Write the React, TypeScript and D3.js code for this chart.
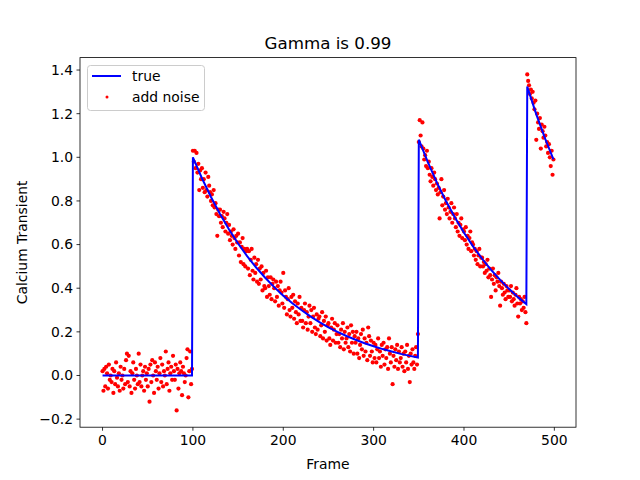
import React from 'react';
import * as d3 from 'd3';

// true transient, sampled (frame, value)
const trueFrames = [0, 99, 100, 110, 120, 130, 140, 150, 160, 170, 180, 190, 200, 210, 220, 230, 240, 250, 260, 270, 280, 290, 300, 310, 320, 330, 340, 349, 350, 360, 370, 380, 390, 400, 410, 420, 430, 440, 450, 460, 469, 470, 480, 490, 499];
const trueValues = [0, 0, 1.0, 0.904, 0.818, 0.74, 0.669, 0.605, 0.547, 0.495, 0.448, 0.405, 0.366, 0.331, 0.3, 0.271, 0.245, 0.221, 0.2, 0.181, 0.164, 0.148, 0.134, 0.121, 0.11, 0.099, 0.09, 0.082, 1.081, 0.978, 0.884, 0.8, 0.724, 0.654, 0.592, 0.535, 0.484, 0.438, 0.396, 0.358, 0.327, 1.324, 1.197, 1.083, 0.99];

// noisy observation, one per frame 0..499
const noisy = [
  0.02, -0.07, 0.03, -0.05, 0.04, 0.01, -0.06, 0.05, -0.02, 0.0,
  -0.03, 0.03, -0.08, 0.02, -0.04, 0.06, -0.01, -0.05, 0.01, -0.07,
  0.04, -0.02, 0.0, -0.06, 0.03, -0.04, 0.07, 0.1, -0.03, 0.09,
  -0.05, 0.02, -0.08, 0.01, 0.06, -0.02, -0.06, 0.03, 0.0, -0.04,
  0.1, -0.03, 0.05, -0.05, 0.0, 0.02, -0.07, 0.04, -0.02, 0.01,
  -0.05, 0.03, -0.12, 0.05, -0.03, 0.07, 0.0, -0.08, 0.06, 0.02,
  -0.02, 0.04, -0.06, 0.01, 0.08, -0.03, 0.05, -0.05, 0.02, 0.0,
  0.11, -0.04, 0.03, 0.06, -0.07, 0.01, 0.04, -0.02, 0.09, 0.02,
  -0.02, 0.05, -0.16, 0.03, -0.06, 0.01, 0.06, 0.02, -0.09, 0.04,
  0.01, -0.03, 0.0, 0.08, 0.12, -0.1, 0.02, 0.11, -0.04, 0.03,
  1.03, 0.98, 1.03, 0.95, 1.02, 0.93, 0.97, 0.85, 0.94, 0.9,
  0.95, 0.86, 0.9, 0.84, 0.93, 0.85, 0.82, 0.91, 0.87, 0.84,
  0.8, 0.83, 0.78, 0.85, 0.77, 0.79, 0.74, 0.64, 0.76, 0.73,
  0.76, 0.7, 0.73, 0.68, 0.75, 0.72, 0.66, 0.7, 0.74, 0.65,
  0.69, 0.62, 0.66, 0.64, 0.6, 0.67, 0.63, 0.58, 0.64, 0.61,
  0.65, 0.55, 0.61, 0.52, 0.59, 0.63, 0.51, 0.58, 0.5, 0.57,
  0.58, 0.49, 0.57, 0.46, 0.53, 0.58, 0.48, 0.44, 0.54, 0.47,
  0.51, 0.43, 0.53, 0.42, 0.49, 0.44, 0.5, 0.39, 0.47, 0.41,
  0.4, 0.48, 0.36, 0.45, 0.41, 0.37, 0.45, 0.35, 0.42, 0.44,
  0.4, 0.34, 0.43, 0.36, 0.41, 0.32, 0.39, 0.43, 0.38, 0.33,
  0.47, 0.31, 0.39, 0.36, 0.28, 0.35, 0.4, 0.3, 0.27, 0.36,
  0.31, 0.37, 0.26, 0.34, 0.29, 0.24, 0.33, 0.28, 0.36, 0.25,
  0.31, 0.25, 0.22, 0.3, 0.33, 0.24, 0.29, 0.21, 0.27, 0.32,
  0.24, 0.3, 0.2, 0.27, 0.31, 0.22, 0.19, 0.28, 0.21, 0.26,
  0.27, 0.18, 0.23, 0.29, 0.17, 0.25, 0.2, 0.27, 0.16, 0.23,
  0.24, 0.17, 0.14, 0.22, 0.26, 0.16, 0.21, 0.24, 0.15, 0.19,
  0.23, 0.15, 0.19, 0.13, 0.21, 0.17, 0.24, 0.12, 0.2, 0.15,
  0.17, 0.22, 0.13, 0.19, 0.11, 0.23, 0.15, 0.2, 0.1, 0.18,
  0.15, 0.2, 0.1, 0.17, 0.08, 0.14, 0.19, 0.12, 0.21, 0.09,
  0.17, 0.11, 0.15, 0.07, 0.22, 0.18, 0.09, 0.16, 0.11, 0.06,
  0.15, 0.08, 0.14, 0.06, 0.12, 0.17, 0.08, 0.11, 0.04, 0.14,
  0.09, 0.15, 0.05, 0.12, 0.08, 0.13, 0.03, 0.17, 0.1, 0.06,
  0.13, -0.04, 0.09, 0.04, 0.12, 0.07, 0.14, 0.03, 0.11, 0.06,
  0.08, 0.13, 0.04, 0.1, 0.02, 0.11, 0.06, 0.14, 0.03, 0.09,
  -0.03, 0.1, 0.05, 0.12, 0.06, 0.03, 0.09, 0.13, 0.05, 0.19,
  1.07, 1.17, 1.1, 1.05, 1.16, 1.04, 0.99, 1.01, 0.96, 1.03,
  0.95, 0.98, 0.92, 0.89, 0.95, 0.91, 0.87, 0.93, 0.9, 0.85,
  0.88, 0.83, 0.86, 0.72, 0.84, 0.9, 0.78, 0.82, 0.85, 0.76,
  0.79, 0.74, 0.81, 0.77, 0.72, 0.75, 0.79, 0.7, 0.74, 0.77,
  0.72, 0.68, 0.74, 0.66, 0.7, 0.64, 0.69, 0.72, 0.63, 0.67,
  0.66, 0.62, 0.68, 0.6, 0.64, 0.58, 0.63, 0.66, 0.57, 0.61,
  0.6, 0.55, 0.58, 0.53, 0.57, 0.51, 0.55, 0.58, 0.5, 0.54,
  0.54, 0.5, 0.52, 0.47, 0.51, 0.48, 0.53, 0.45, 0.49, 0.46,
  0.36, 0.44, 0.49, 0.42, 0.46, 0.39, 0.45, 0.43, 0.47, 0.41,
  0.32, 0.43, 0.4, 0.37, 0.42, 0.38, 0.35, 0.41, 0.39, 0.36,
  0.39, 0.36, 0.41, 0.34, 0.38, 0.35, 0.32, 0.37, 0.4, 0.33,
  0.27, 0.36, 0.33, 0.35, 0.3, 0.34, 0.31, 0.36, 0.29, 0.24,
  1.38, 1.35, 1.33, 1.29, 1.31, 1.27, 1.3, 1.25, 1.22, 1.26,
  1.08, 1.2, 1.16, 1.13, 1.18, 1.04, 1.15, 1.12, 1.09, 1.14,
  1.1, 1.05, 1.07, 1.02, 1.06, 1.0, 0.96, 1.03, 0.92, 0.99,
];

const xTicks = [0, 100, 200, 300, 400, 500];
const yTicks = [-0.2, 0.0, 0.2, 0.4, 0.6, 0.8, 1.0, 1.2, 1.4];

const W = 640;
const H = 480;
const L = 80, R = 576, T = 57.6, B = 427.2;
const FONT = 'DejaVu Sans, sans-serif';

export default function App() {
  const n = noisy.length;
  const xm = (n - 1) * 0.05;
  const x = d3.scaleLinear().domain([-xm, n - 1 + xm]).range([L, R]);
  const lo = d3.min([...noisy, ...trueValues]) as number;
  const hi = d3.max([...noisy, ...trueValues]) as number;
  const ym = (hi - lo) * 0.05;
  const y = d3.scaleLinear().domain([lo - ym, hi + ym]).range([B, T]);

  const line = d3
    .line<number>()
    .x((_, i) => x(trueFrames[i]))
    .y((d) => y(d));

  const fmt = (v: number) => v.toFixed(1).replace('-', '\u2212');

  return (
    <svg width={W} height={H} style={{ position: 'absolute', left: 0, top: 0, background: '#fff' }} fontFamily={FONT}>
      <rect x={0} y={0} width={W} height={H} fill="#fff" />
      <defs>
        <clipPath id="plot">
          <rect x={L} y={T} width={R - L} height={B - T} />
        </clipPath>
      </defs>
      <g clipPath="url(#plot)">
        {noisy.map((v, i) => (
          <circle key={i} cx={x(i)} cy={y(v)} r={2.1} fill="#ff0000" />
        ))}
        <path d={line(trueValues) as string} fill="none" stroke="#0000ff" strokeWidth={2} />
      </g>
      <rect x={L} y={T} width={R - L} height={B - T} fill="none" stroke="#000" strokeWidth={0.8} />
      {xTicks.map((t) => (
        <g key={t} transform={`translate(${x(t)},${B})`}>
          <line y2={3.5} stroke="#000" strokeWidth={0.8} />
          <text y={17.5} textAnchor="middle" fontSize={13.9}>{t}</text>
        </g>
      ))}
      {yTicks.map((t) => (
        <g key={t} transform={`translate(${L},${y(t)})`}>
          <line x2={-3.5} stroke="#000" strokeWidth={0.8} />
          <text x={-7} dy="0.35em" textAnchor="end" fontSize={13.9}>{fmt(t)}</text>
        </g>
      ))}
      <text x={(L + R) / 2} y={469} textAnchor="middle" fontSize={13.9}>Frame</text>
      <text transform={`translate(27,${(T + B) / 2}) rotate(-90)`} textAnchor="middle" fontSize={13.9}>Calcium Transient</text>
      <text x={(L + R) / 2} y={49} textAnchor="middle" fontSize={16.7}>Gamma is 0.99</text>
      <g>
        <rect x={87.5} y={65.5} width={117} height={45} rx={3} fill="#fff" fillOpacity={0.8} stroke="#ccc" strokeWidth={1} />
        <line x1={92} x2={121} y1={76} y2={76} stroke="#0000ff" strokeWidth={2} />
        <text x={132} y={81} fontSize={13.9}>true</text>
        <circle cx={107} cy={97} r={1.5} fill="#ff0000" />
        <text x={132} y={102} fontSize={13.9}>add noise</text>
      </g>
    </svg>
  );
}
